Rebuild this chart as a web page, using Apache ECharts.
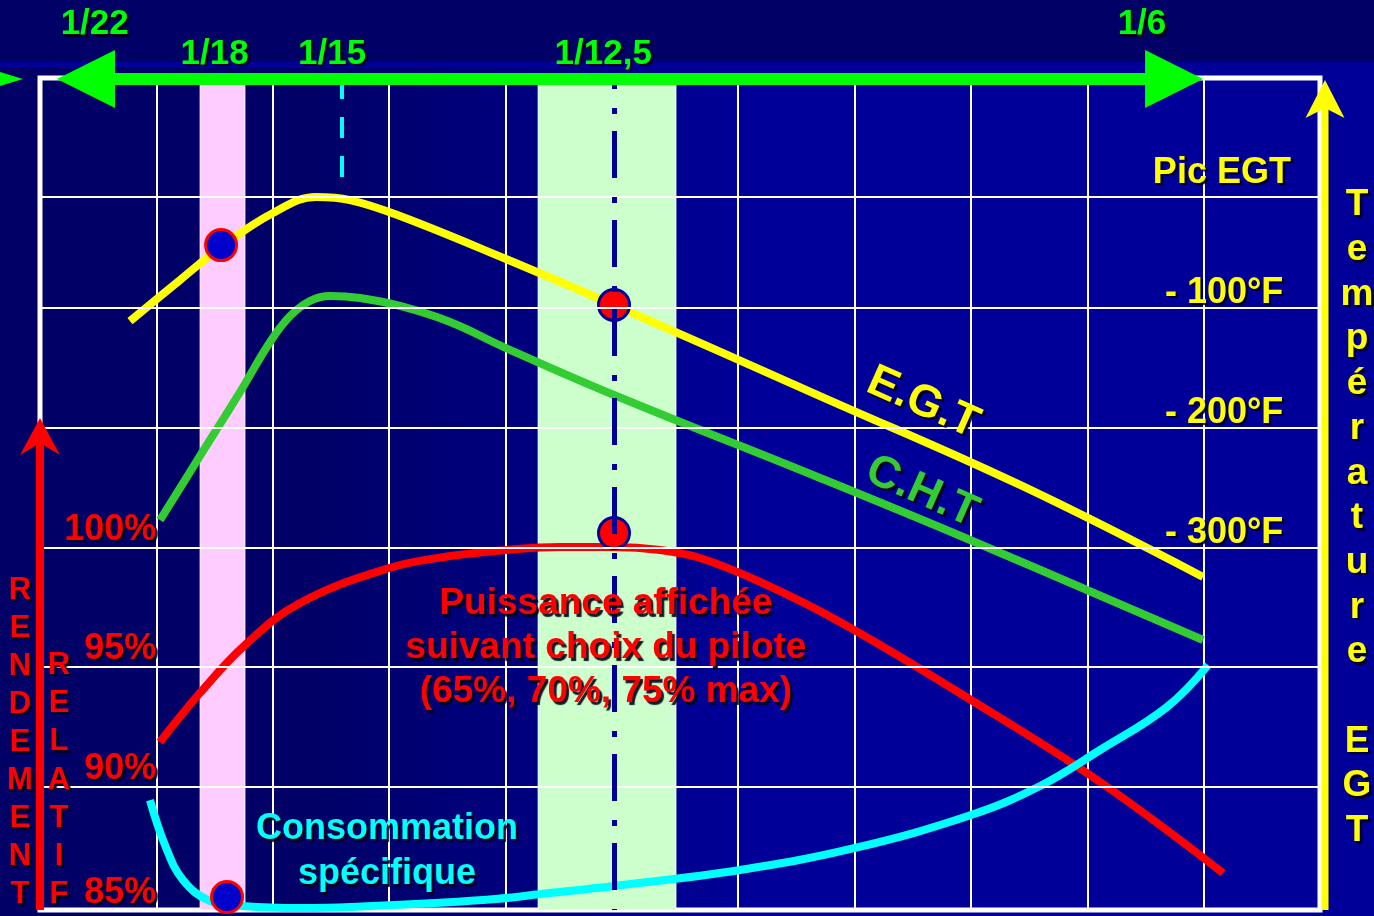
<!DOCTYPE html>
<html><head><meta charset="utf-8">
<script src="https://cdn.jsdelivr.net/npm/echarts@6/dist/echarts.min.js"></script>
<style>
html,body{margin:0;padding:0;background:#000066;}
#c{width:1374px;height:916px;
background:linear-gradient(to bottom,#000066 0,#000066 62px,#000099 62px,#000099 67px,transparent 67px),
linear-gradient(to right,#000066 0%,#000066 22%,#000099 55%,#000099 100%);}
</style>
</head><body><div id="c"></div>
<script>
// ---- data (grid units: x 0..11 columns, y 0..7 rows) ----
const ratioLabels = ['1/22', '1/18', '1/15', '1/12,5', '1/6'];
const ratioX = [0.47, 1.50, 2.51, 4.84, 9.47];
const ratioY = [7.45, 7.20, 7.20, 7.20, 7.45];
const hLines = [1.043, 2.053, 3.054, 4.064, 5.073, 5.999];
const rendementTicks = ['85%', '90%', '95%', '100%'];
const rendementTickY = [0, 1.043, 2.053, 3.054];
const egtTicks = ['- 300°F', '- 200°F', '- 100°F', 'Pic EGT'];
const egtTickY = [3.054, 4.064, 5.073, 5.999];

const egt = [[0.773,4.955],[1.203,5.300],[1.556,5.578],[2.002,5.864],[2.372,5.999],[2.664,5.973],[3.094,5.839],[4.005,5.477],[4.933,5.090],[6.703,4.324],[8.422,3.576],[9.995,2.802]];
const cht = [[1.031,3.281],[1.375,3.820],[1.719,4.358],[1.977,4.779],[2.149,4.997],[2.320,5.124],[2.492,5.166],[2.750,5.149],[3.094,5.082],[3.524,4.947],[4.005,4.728],[4.933,4.333],[6.703,3.635],[7.932,3.138],[9.995,2.272]];
const puissance = [[1.031,1.413],[1.375,1.826],[1.762,2.230],[2.234,2.583],[2.999,2.877],[3.524,2.978],[4.005,3.029],[4.469,3.054],[4.933,3.054],[5.328,3.029],[5.672,2.961],[6.188,2.760],[6.875,2.423],[8.001,1.767],[9.110,1.077],[10.167,0.311]];
const consommation = [[0.945,0.925],[1.074,0.547],[1.229,0.252],[1.461,0.076],[1.745,0.034],[2.234,0.017],[2.664,0.025],[3.807,0.084],[4.383,0.143],[4.933,0.202],[6.016,0.337],[7.004,0.522],[8.001,0.799],[8.594,1.043],[9.110,1.346],[9.685,1.708],[10.038,2.061]];
const blueDots = [[1.556,5.594],[1.607,0.109]];
const redDots = [[4.933,5.091],[4.933,3.172]];
const pinkBand = [1.375, 1.762];
const greenBand = [4.280, 5.466];
const ratio15X = 2.595, ratio15Bottom = 6.041;
const ratio125X = 4.933;

const F = '"Liberation Sans", Arial, sans-serif';
const chart = echarts.init(document.getElementById('c'), null, {renderer: 'canvas'});

const annotations = [];
ratioLabels.forEach((t, i) => annotations.push({x: ratioX[i], y: ratioY[i], text: t, color: '#00FF00', size: 35}));
rendementTicks.forEach((t, i) => annotations.push({x: 1, y: rendementTickY[i], dy: -17, text: t, color: '#FF0000', size: 36, align: 'right'}));
egtTicks.forEach((t, i) => annotations.push({x: i === 3 ? 10.75 : 10.685, y: egtTickY[i], dy: i === 3 ? -24 : -14, text: t, color: '#FFFF00', size: 36, align: 'right'}));
annotations.push({x: 4.864, y: 2.204, text: 'Puissance affichée\nsuivant choix du pilote\n(65%, 70%, 75% max)', color: '#FF0000', size: 37, lh: 44});
annotations.push({x: 2.982, y: 0.488, text: 'Consommation\nspécifique', color: '#00FFFF', size: 36, lh: 45});
annotations.push({x: 7.589, y: 4.266, text: 'E.G.T', color: '#FFFF00', size: 45, rot: -24});
annotations.push({x: 7.580, y: 3.517, text: 'C.H.T', color: '#33CC33', size: 45, rot: -24});
annotations.push({x: -0.172, y: 1.409, text: 'RENDEMENT'.split('').join('\n'), color: '#FF0000', size: 31, lh: 38.1});
annotations.push({x: 0.163, y: 1.094, text: 'RELATIF'.split('').join('\n'), color: '#FF0000', size: 31, lh: 38.3});
annotations.push({x: 11.318, y: 3.298, text: 'Température EGT'.split('').join('\n'), color: '#FFFF00', size: 37, lh: 44.7});

function arrowSeries(pts, color, width, head, z) {
  return {
    type: 'custom', z: z, silent: true, clip: false,
    data: [pts[0].concat(pts[1])],
    renderItem: function (params, api) {
      const p0 = api.coord([api.value(0), api.value(1)]);
      const p1 = api.coord([api.value(2), api.value(3)]);
      const dx = p1[0] - p0[0], dy = p1[1] - p0[1], L = Math.hypot(dx, dy);
      const ux = dx / L, uy = dy / L, nx = -uy, ny = ux;
      const children = [];
      function headPoly(tip, dirx, diry) {
        const bx = tip[0] - dirx * head.len, by = tip[1] - diry * head.len;
        const pp = [tip, [bx + nx * head.half, by + ny * head.half]];
        if (head.notch) pp.push([tip[0] - dirx * head.notch, tip[1] - diry * head.notch]);
        pp.push([bx - nx * head.half, by - ny * head.half]);
        return {type: 'polygon', shape: {points: pp}, style: {fill: color}};
      }
      const back = (head.notch || head.len) * 0.9;
      if (width > 0) {
        const s1 = [p1[0] - ux * back, p1[1] - uy * back];
        const s0 = head.both ? [p0[0] + ux * back, p0[1] + uy * back] : p0;
        children.push({type: 'line', shape: {x1: s0[0], y1: s0[1], x2: s1[0], y2: s1[1]}, style: {stroke: color, lineWidth: width}});
      }
      children.push(headPoly(p1, ux, uy));
      if (head.both) children.push(headPoly(p0, -ux, -uy));
      return {type: 'group', children: children};
    }
  };
}

const curve = (data, color) => ({
  type: 'line', data: data, smooth: 0.4, showSymbol: false, silent: true, z: 3,
  lineStyle: {color: color, width: 8}
});

const option = {
  backgroundColor: 'transparent',
  animation: false,
  grid: {left: 40, right: 54, top: 78, bottom: 6, show: true, borderColor: '#ffffff', borderWidth: 5, backgroundColor: 'transparent'},
  xAxis: {type: 'value', min: 0, max: 11, interval: 1,
    axisLine: {show: false}, axisTick: {show: false}, axisLabel: {show: false},
    splitLine: {show: true, lineStyle: {color: '#ffffff', width: 2}}},
  yAxis: {type: 'value', min: 0, max: 7,
    axisLine: {show: false}, axisTick: {show: false}, axisLabel: {show: false}, splitLine: {show: false}},
  series: [
    {type: 'line', data: [], z: 1, silent: true,
      markLine: {silent: true, symbol: 'none', label: {show: false}, animation: false,
        lineStyle: {color: '#ffffff', width: 2, type: 'solid'},
        data: hLines.map(v => ({yAxis: v}))}},
    {type: 'line', data: [], z: 2, silent: true,
      markArea: {silent: true, label: {show: false},
        data: [
          [{xAxis: pinkBand[0], yAxis: 0, itemStyle: {color: '#FFCCFF', borderColor: 'rgba(255,255,255,0.7)', borderWidth: 1}}, {xAxis: pinkBand[1], yAxis: 7}],
          [{xAxis: greenBand[0], yAxis: 0, itemStyle: {color: '#CCFFCC', borderColor: 'rgba(255,255,255,0.7)', borderWidth: 1}}, {xAxis: greenBand[1], yAxis: 7}]
        ]}},
    curve(egt, '#FFFF00'),
    curve(cht, '#33CC33'),
    curve(puissance, '#FF0000'),
    curve(consommation, '#00FFFF'),
    {type: 'scatter', data: blueDots, symbolSize: 31, z: 4, silent: true,
      itemStyle: {color: '#0000CC', borderColor: '#FF0000', borderWidth: 3, opacity: 1}},
    {type: 'scatter', data: redDots, symbolSize: 31, z: 4, silent: true,
      itemStyle: {color: '#FF0000', borderColor: '#000099', borderWidth: 3, opacity: 1}},
    {type: 'line', data: [], z: 5, silent: true,
      markLine: {silent: true, symbol: 'none', label: {show: false}, animation: false,
        data: [
          [{coord: [ratio125X, 7], lineStyle: {color: '#000099', width: 5, type: [47, 19, 6, 17], dashOffset: 36}}, {coord: [ratio125X, 0]}],
          [{coord: [ratio15X, 7], lineStyle: {color: '#00FFFF', width: 4, type: [21, 18]}}, {coord: [ratio15X, ratio15Bottom]}]
        ]}},
    arrowSeries([[0, 0], [0, 4.139]], '#FF0000', 8, {len: 37, half: 20, notch: 25}, 6),
    arrowSeries([[11.043, 0], [11.043, 6.983]], '#FFFF00', 7, {len: 38, half: 19.5, notch: 28}, 6),
    arrowSeries([[0.146, 6.991], [9.995, 6.991]], '#00FF00', 12, {len: 58, half: 29, both: true}, 6),
    arrowSeries([[-0.6, 6.991], [-0.146, 6.991]], '#00FF00', 0, {len: 53, half: 16}, 6),
    {type: 'custom', z: 10, silent: true, clip: false,
      data: annotations.map(a => [a.x, a.y]),
      renderItem: function (params, api) {
        const a = annotations[params.dataIndex];
        const p = api.coord([api.value(0), api.value(1)]);
        return {type: 'text', x: p[0] + (a.dx || 0), y: p[1] + (a.dy || 0), rotation: (a.rot || 0) * Math.PI / 180,
          style: {text: a.text, fill: a.color, font: 'bold ' + a.size + 'px ' + F,
            align: a.align || 'center', verticalAlign: 'middle', lineHeight: a.lh,
            textShadowColor: 'rgba(0,0,20,0.9)', textShadowOffsetX: 2.5, textShadowOffsetY: 2.5, textShadowBlur: 1}};
      }}
  ]
};
chart.setOption(option);
</script>
</body></html>
